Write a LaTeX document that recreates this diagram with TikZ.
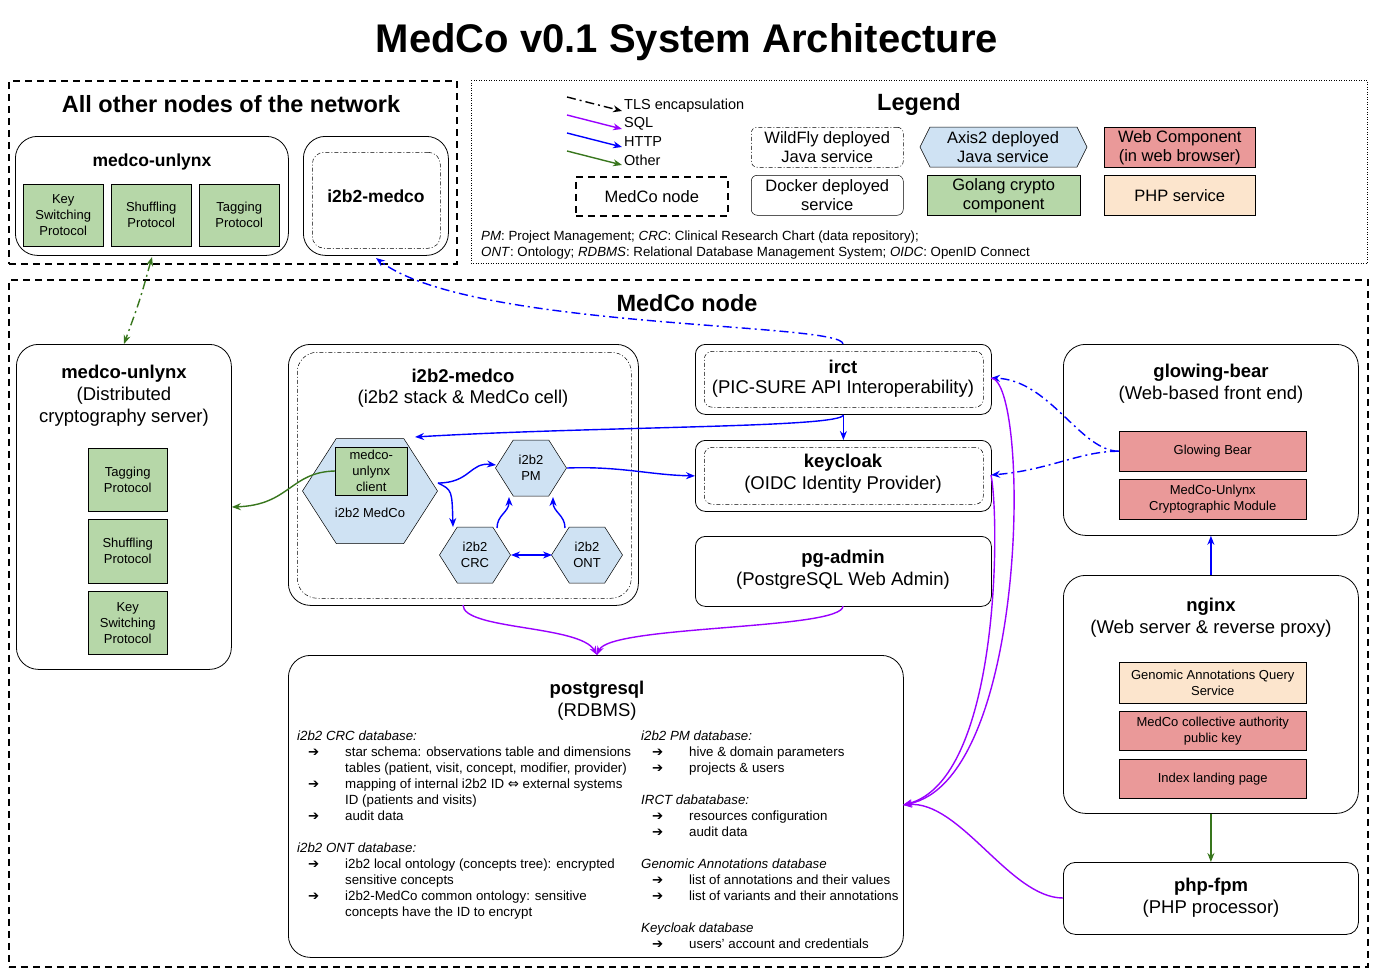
\documentclass[tikz,border=0pt]{standalone}
\usepackage{fontspec}
\setmainfont{Liberation Sans}
\newfontfamily\dvs{DejaVu Sans}
\usetikzlibrary{arrows.meta}
\definecolor{cblue}{HTML}{0000FF}
\definecolor{cpurp}{HTML}{9900FF}
\definecolor{cgreen}{HTML}{38761D}
\definecolor{flblue}{HTML}{CFE2F3}
\definecolor{fgreen}{HTML}{B6D7A8}
\definecolor{fred}{HTML}{EA9999}
\definecolor{forange}{HTML}{FCE5CD}
\newcommand\fs{\fontsize{13}{16}\selectfont}
\tikzset{
 every node/.style={inner sep=0pt, align=center},
 bigdash/.style={draw, line width=1.6pt, dash pattern=on 7pt off 5pt},
 rbox/.style={draw, rounded corners=22pt, line width=0.8pt},
 inbox/.style={draw, rounded corners=12pt, dash pattern=on 4pt off 2pt on 1pt off 2pt, line width=0.5pt},
 gbox/.style={draw, fill=fgreen, line width=0.5pt},
 redbox/.style={draw, fill=fred, line width=0.5pt},
 orbox/.style={draw, fill=forange, line width=0.5pt},
 hexs/.style={draw, fill=flblue, line width=0.5pt},
 sm/.style={font=\fs},
 ttl/.style={font=\fontsize{18.5}{22}\selectfont\bfseries},
 sub/.style={font=\fontsize{18.5}{22}\selectfont},
 arr/.style={-{Stealth[length=9pt,width=7pt]}, line width=1.4pt},
 barr/.style={arr, cblue},
 parr/.style={arr, cpurp},
 garr/.style={arr, cgreen},
 tls/.style={dash pattern=on 9pt off 4pt on 2pt off 4pt},
 leg/.style={font=\fontsize{16.5}{19}\selectfont},
 db/.style={anchor=base west, font=\fontsize{13.3}{16}\selectfont},
}
\newcommand\RB[6]{\node[#6, anchor=north west, minimum width={(#4-#2)*1pt}, minimum height={(#5-#3)*1pt}] (#1) at (#2,#3) {};}
\newcommand\HX[6]{% name cx cy w h text
 \draw[hexs] ({#2-#4/2},#3) -- ({#2-#4/4},{#3-#5/2}) -- ({#2+#4/4},{#3-#5/2}) -- ({#2+#4/2},#3) -- ({#2+#4/4},{#3+#5/2}) -- ({#2-#4/4},{#3+#5/2}) -- cycle;
 \node[minimum width={#4*1pt}, minimum height={#5*1pt}, font=\fs] (#1) at (#2,#3) {#6};}
\newcommand\IT{{\dvs ➔}}
\begin{document}
\begin{tikzpicture}[x=1pt,y=-1pt]
\useasboundingbox (0,0) rectangle (1374,972);
\node[font=\fontsize{40}{44}\selectfont\bfseries] (title) at (687,42) {MedCo v0.1 System Architecture};

% other nodes
\RB{other}{8}{80}{456}{263}{bigdash}
\node[font=\fontsize{23.5}{26}\selectfont\bfseries] (othert) at (231,104) {All other nodes of the network};
\RB{ounl}{15}{136}{288}{255}{rbox}
\node[font=\fontsize{17.5}{20}\selectfont\bfseries] (ounlt) at (152,162) {medco-unlynx};
\RB{ok}{23}{184}{103}{246}{gbox}\node[sm] at (ok) {Key\\Switching\\Protocol};
\RB{os}{111}{184}{191}{246}{gbox}\node[sm] at (os) {Shuffling\\Protocol};
\RB{ot}{199}{184}{279}{246}{gbox}\node[sm] at (ot) {Tagging\\Protocol};
\RB{oi}{303}{136}{448}{255}{rbox}
\RB{oii}{312}{152}{440}{248}{inbox}
\node[font=\fontsize{17.5}{20}\selectfont\bfseries] (oit) at (376,196) {i2b2-medco};

% legend
\draw[dotted, line width=0.5pt] (471,80) rectangle (1367,263);
\node[font=\fontsize{23.5}{26}\selectfont\bfseries] (legt) at (919,104) {Legend};
\coordinate (l1a) at (567,97); \coordinate (l1b) at (622,111);
\coordinate (l2a) at (567,115); \coordinate (l2b) at (622,129);
\coordinate (l3a) at (567,133); \coordinate (l3b) at (622,147);
\coordinate (l4a) at (567,151); \coordinate (l4b) at (622,165);
\draw[arr, black, tls] (l1a) -- (l1b);
\draw[parr] (l2a) -- (l2b);
\draw[barr] (l3a) -- (l3b);
\draw[garr] (l4a) -- (l4b);
\node[anchor=west, font=\fontsize{14.5}{16}\selectfont] at (624,106) {TLS encapsulation};
\node[anchor=west, font=\fontsize{14.5}{16}\selectfont] at (624,124) {SQL};
\node[anchor=west, font=\fontsize{14.5}{16}\selectfont] at (624,142) {HTTP};
\node[anchor=west, font=\fontsize{14.5}{16}\selectfont] at (624,160) {Other};
\RB{lmn}{575}{176}{727}{215}{bigdash}\node[leg] at (lmn) {MedCo node};
\RB{lwf}{751}{127}{903}{167}{inbox, rounded corners=6pt}\node[leg] at (lwf) {WildFly deployed\\Java service};
\RB{ldk}{751}{175}{903}{215}{draw, rounded corners=6pt, line width=0.5pt}\node[leg] at (ldk) {Docker deployed\\service};
\draw[hexs] (920,147) -- (930,127) -- (1077,127) -- (1087,147) -- (1077,167) -- (930,167) -- cycle;
\node[leg] (lax) at (1003,147) {Axis2 deployed\\Java service};
\RB{lgo}{927}{175}{1080}{215}{gbox}\node[leg] at (lgo) {Golang crypto\\component};
\RB{lwc}{1104}{127}{1255}{167}{redbox}\node[leg] at (lwc) {Web Component\\(in web browser)};
\RB{lph}{1104}{175}{1255}{215}{orbox}\node[leg] at (lph) {PHP service};
\node[db] at (481,240) {\textit{PM}: Project Management; \textit{CRC}: Clinical Research Chart (data repository);};
\node[db] at (481,256) {\textit{ONT}: Ontology; \textit{RDBMS}: Relational Database Management System; \textit{OIDC}: OpenID Connect};

% MedCo node
\RB{node}{8}{279}{1367}{966}{bigdash}
\node[font=\fontsize{23.5}{26}\selectfont\bfseries] (nodet) at (687,303) {MedCo node};

\RB{unl}{16}{344}{231}{669}{rbox}
\node[ttl] at (124,374) {medco-unlynx};
\node[sub] at (124,407) {(Distributed\\cryptography server)};
\RB{ut}{88}{448}{167}{511}{gbox}\node[sm] at (ut) {Tagging\\Protocol};
\RB{us}{88}{519}{167}{583}{gbox}\node[sm] at (us) {Shuffling\\Protocol};
\RB{uk}{88}{591}{167}{654}{gbox}\node[sm] at (uk) {Key\\Switching\\Protocol};

\RB{i2b}{288}{344}{638}{605}{rbox}
\RB{i2bi}{297}{352}{631}{598}{inbox, rounded corners=20pt}
\node[ttl] at (463,376) {i2b2-medco};
\node[sub] at (463,399) {(i2b2 stack \& MedCo cell)};
\HX{hmc}{370}{491}{135}{105}{\\[38pt]i2b2 MedCo}
\RB{muc}{335}{447}{407}{495}{gbox}\node[sm] at (muc) {medco-\\unlynx\\client};
\HX{hpm}{531}{468}{71}{56}{i2b2\\PM}
\HX{hcrc}{475}{555}{71}{56}{i2b2\\CRC}
\HX{hont}{587}{555}{71}{56}{i2b2\\ONT}

\RB{irct}{695}{344}{991}{414}{rbox, rounded corners=10pt}
\RB{irctI}{704}{351}{983}{407}{inbox, rounded corners=8pt}
\node[ttl] at (843,367) {irct};
\node[sub] at (843,389) {(PIC-SURE API Interoperability)};
\RB{kc}{695}{440}{991}{511}{rbox, rounded corners=10pt}
\RB{kcI}{704}{447}{983}{504}{inbox, rounded corners=8pt}
\node[ttl] at (843,463) {keycloak};
\node[sub] at (843,485) {(OIDC Identity Provider)};
\RB{pga}{695}{536}{991}{606}{rbox, rounded corners=10pt}
\node[ttl] at (843,559) {pg-admin};
\node[sub] at (843,581) {(PostgreSQL Web Admin)};

\RB{gb}{1063}{344}{1358}{535}{rbox}
\node[ttl] at (1211,373) {glowing-bear};
\node[sub] at (1211,395) {(Web-based front end)};
\RB{gbb}{1119}{431}{1306}{471}{redbox}\node[sm] at (gbb) {Glowing Bear};
\RB{gbm}{1119}{479}{1306}{519}{redbox}\node[sm] at (gbm) {MedCo-Unlynx\\Cryptographic Module};

\RB{ngx}{1063}{575}{1358}{813}{rbox}
\node[ttl] at (1211,607) {nginx};
\node[sub] at (1211,629) {(Web server \& reverse proxy)};
\RB{nga}{1119}{662}{1306}{703}{orbox}\node[sm] at (nga) {Genomic Annotations Query\\Service};
\RB{ngk}{1119}{711}{1306}{750}{redbox}\node[sm] at (ngk) {MedCo collective authority\\public key};
\RB{ngi}{1119}{759}{1306}{798}{redbox}\node[sm] at (ngi) {Index landing page};

\RB{php}{1063}{862}{1358}{934}{rbox, rounded corners=12pt}
\node[ttl] at (1211,887) {php-fpm};
\node[sub] at (1211,909) {(PHP processor)};

\RB{pg}{288}{655}{903}{957}{rbox}
\node[ttl] at (597,690) {postgresql};
\node[sub] at (597,712) {(RDBMS)};
% left column
\node[db] at (297,740) {\textit{i2b2 CRC database:}};
\node[db] at (308,756) {\IT}; \node[db] at (345,756) {star schema: observations table and dimensions};
\node[db] at (345,772) {tables (patient, visit, concept, modifier, provider)};
\node[db] at (308,788) {\IT}; \node[db] at (345,788) {mapping of internal i2b2 ID {\dvs ⇔} external systems};
\node[db] at (345,804) {ID (patients and visits)};
\node[db] at (308,820) {\IT}; \node[db] at (345,820) {audit data};
\node[db] at (297,852) {\textit{i2b2 ONT database:}};
\node[db] at (308,868) {\IT}; \node[db] at (345,868) {i2b2 local ontology (concepts tree): encrypted};
\node[db] at (345,884) {sensitive concepts};
\node[db] at (308,900) {\IT}; \node[db] at (345,900) {i2b2-MedCo common ontology: sensitive};
\node[db] at (345,916) {concepts have the ID to encrypt};
% right column
\node[db] at (641,740) {\textit{i2b2 PM database:}};
\node[db] at (652,756) {\IT}; \node[db] at (689,756) {hive \& domain parameters};
\node[db] at (652,772) {\IT}; \node[db] at (689,772) {projects \& users};
\node[db] at (641,804) {\textit{IRCT dabatabase:}};
\node[db] at (652,820) {\IT}; \node[db] at (689,820) {resources configuration};
\node[db] at (652,836) {\IT}; \node[db] at (689,836) {audit data};
\node[db] at (641,868) {\textit{Genomic Annotations database}};
\node[db] at (652,884) {\IT}; \node[db] at (689,884) {list of annotations and their values};
\node[db] at (652,900) {\IT}; \node[db] at (689,900) {list of variants and their annotations};
\node[db] at (641,932) {\textit{Keycloak database}};
\node[db] at (652,948) {\IT}; \node[db] at (689,948) {users' account and credentials};

% connectors
\coordinate (pgtop) at (597,655);
\coordinate (pgr) at (903,805);
\draw[garr, tls, {Stealth[length=9pt,width=7pt]}-{Stealth[length=9pt,width=7pt]}] (152,257) .. controls (140,300) .. (unl.north -| 124,344);
\draw[barr, tls] (843,344) .. controls (843,322) and (470,330) .. (376,258);
\draw[barr] (irct.south) .. controls (843,428) and (600,426) .. (415,437);
\draw[barr] (irct.south) -- (kc.north);
\draw[barr] (567,468) .. controls (620,466) and (650,475) .. (kc.west);
\draw[barr] (438,483) .. controls (470,483) and (470,462) .. (496,465);
\draw[barr] (438,483) .. controls (452,490) .. (453,527);
\draw[barr] (497,528) .. controls (497,515) and (509,512) .. (509,497);
\draw[barr] (565,528) .. controls (565,515) and (553,512) .. (553,497);
\draw[barr, {Stealth[length=9pt,width=7pt]}-{Stealth[length=9pt,width=7pt]}] (511,555) -- (552,555);
\draw[garr] (335,471) .. controls (290,472) and (290,505) .. (unl.east |- 231,507);
\draw[barr, tls] (gbb.west) .. controls (1080,451) and (1050,380) .. (991,378);
\draw[barr, tls] (gbb.west) .. controls (1080,451) and (1050,470) .. (991,475);
\draw[parr] (463,605) .. controls (463,630) and (580,625) .. (pgtop);
\draw[parr] (843,606) .. controls (843,630) and (610,625) .. (pgtop);
\draw[parr] (991,378) .. controls (1030,380) and (1030,780) .. (pgr);
\draw[parr] (991,475) .. controls (1000,520) and (1000,780) .. (pgr);
\draw[parr] (php.west |- 1063,898) .. controls (1010,898) and (960,800) .. (pgr);
\draw[barr] (ngx.north) -- (gb.south);
\draw[garr] (ngx.south) -- (php.north);
\end{tikzpicture}
\end{document}
